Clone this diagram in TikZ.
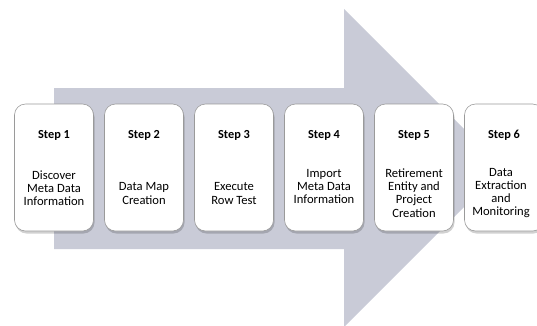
\documentclass[tikz,border=0pt]{standalone}
\usepackage{fontspec}
\setmainfont{Carlito}
\definecolor{arrowgrey}{HTML}{C9CBD7}
\definecolor{boxline}{HTML}{9A9A9A}
\begin{document}
\begin{tikzpicture}[x=1pt,y=-1pt,
  stepbox/.style={draw=boxline,line width=0.6pt,fill=white,rounded corners=11pt,
    minimum width=79pt,minimum height=127pt,inner sep=0pt},
  steptitle/.style={font=\fontsize{12.3}{13}\selectfont\bfseries,inner sep=0pt},
  stepdesc/.style={font=\fontsize{12.6}{13.2}\selectfont,align=center,inner sep=0pt}]
\useasboundingbox (0,0) rectangle (537,325);
\fill[arrowgrey] (54,88) -- (344,88) -- (344,9) -- (503,168) -- (344,327) -- (344,249) -- (54,249) -- cycle;
\foreach \i/\x in {1/54,2/144,3/234,4/324,5/414,6/504}{
  \fill[black,opacity=0.18,rounded corners=11pt] (\x-39.5+1,104+2) rectangle (\x+39.5+1,231+2.5);
  \node[stepbox] (b\i) at (\x,167.5) {};
  \node[steptitle] (t\i) at (\x,135) {Step \i};
}
\node[stepdesc] (d1) at (54,188) {Discover\\Meta Data\\Information};
\node[stepdesc] (d2) at (144,193.5) {Data Map\\Creation};
\node[stepdesc] (d3) at (234,193.5) {Execute\\Row Test};
\node[stepdesc] (d4) at (324,186.5) {Import\\Meta Data\\Information};
\node[stepdesc] (d5) at (414,193) {Retirement\\Entity and\\Project\\Creation};
\node[stepdesc] (d6) at (501,193) {Data\\Extraction\\and\\Monitoring};
\end{tikzpicture}
\end{document}
